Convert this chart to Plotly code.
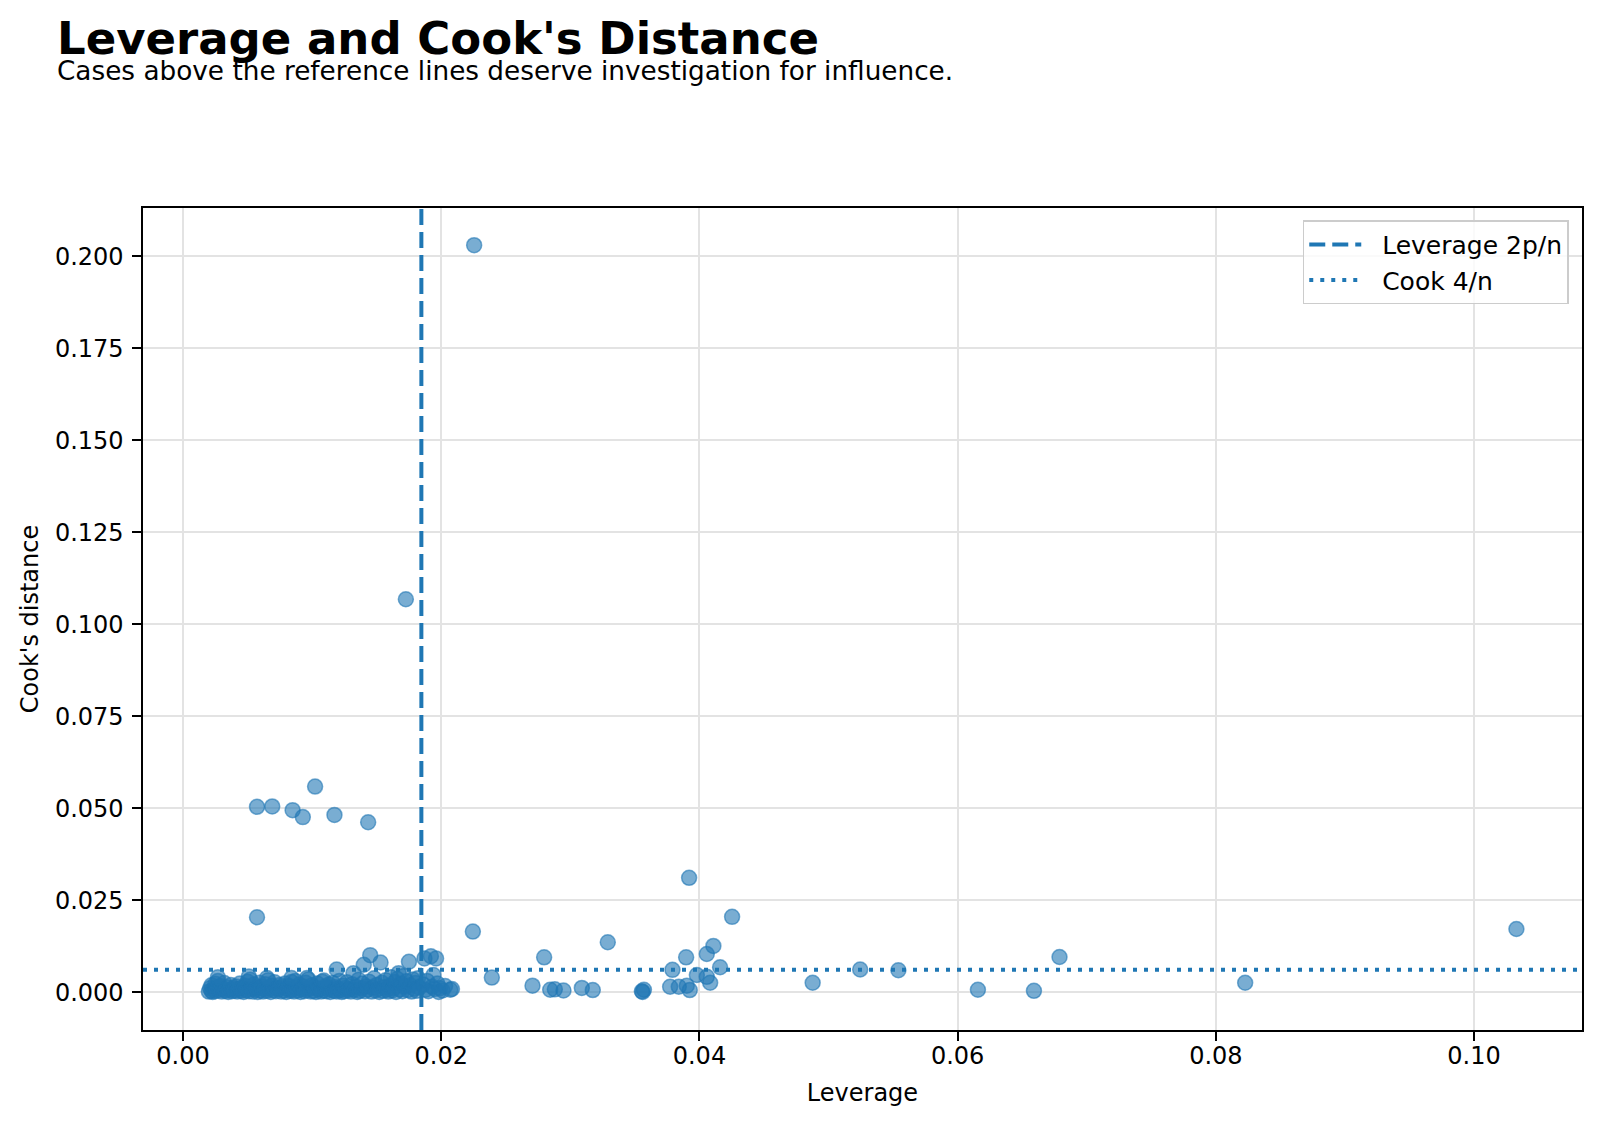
import plotly.graph_objects as go

# model size used for the reference cut-offs
n_obs = 650
n_params = 6

# leverage / Cook's distance: the dense low cluster first
cluster_lev = [
    0.0020, 0.0021, 0.0022, 0.0022, 0.0023, 0.0024, 0.0025, 0.0025, 0.0026, 0.0027,
    0.0028, 0.0029, 0.0030, 0.0031, 0.0032, 0.0033, 0.0034, 0.0035, 0.0036, 0.0037,
    0.0038, 0.0039, 0.0040, 0.0041, 0.0042, 0.0043, 0.0044, 0.0045, 0.0046, 0.0047,
    0.0048, 0.0049, 0.0050, 0.0051, 0.0052, 0.0053, 0.0054, 0.0055, 0.0056, 0.0057,
    0.0058, 0.0059, 0.0060, 0.0061, 0.0062, 0.0063, 0.0064, 0.0065, 0.0066, 0.0067,
    0.0068, 0.0069, 0.0070, 0.0071, 0.0072, 0.0073, 0.0074, 0.0075, 0.0076, 0.0077,
    0.0078, 0.0079, 0.0080, 0.0081, 0.0082, 0.0083, 0.0084, 0.0085, 0.0086, 0.0087,
    0.0088, 0.0089, 0.0090, 0.0091, 0.0092, 0.0093, 0.0094, 0.0095, 0.0096, 0.0097,
    0.0098, 0.0099, 0.0100, 0.0101, 0.0102, 0.0103, 0.0104, 0.0105, 0.0106, 0.0107,
    0.0108, 0.0109, 0.0110, 0.0111, 0.0112, 0.0113, 0.0114, 0.0115, 0.0116, 0.0117,
    0.0118, 0.0119, 0.0120, 0.0121, 0.0122, 0.0123, 0.0124, 0.0125, 0.0126, 0.0127,
    0.0128, 0.0129, 0.0130, 0.0131, 0.0132, 0.0133, 0.0134, 0.0135, 0.0136, 0.0137,
    0.0138, 0.0139, 0.0140, 0.0141, 0.0142, 0.0143, 0.0144, 0.0145, 0.0146, 0.0147,
    0.0148, 0.0149, 0.0150, 0.0151, 0.0152, 0.0153, 0.0154, 0.0155, 0.0156, 0.0157,
    0.0158, 0.0159, 0.0160, 0.0161, 0.0162, 0.0163, 0.0164, 0.0165, 0.0166, 0.0167,
    0.0168, 0.0169, 0.0170, 0.0171, 0.0172, 0.0173, 0.0174, 0.0175, 0.0176, 0.0177,
    0.0178, 0.0179, 0.0180, 0.0181, 0.0182, 0.0183, 0.0186, 0.0187, 0.0188, 0.0189,
    0.0190, 0.0192, 0.0193, 0.0194, 0.0195, 0.0196, 0.0197, 0.0198, 0.0199, 0.0201,
    0.0203, 0.0207, 0.0119, 0.0027, 0.0051, 0.0065, 0.0084, 0.0096, 0.0109,
]
cluster_cook = [
    0.0002, 0.0011, 0.0004, 0.0019, 0.0001, 0.0008, 0.0023, 0.0003, 0.0013, 0.0031,
    0.0006, 0.0017, 0.0002, 0.0009, 0.0025, 0.0004, 0.0014, 0.0001, 0.0007, 0.0020,
    0.0003, 0.0011, 0.0005, 0.0016, 0.0002, 0.0009, 0.0024, 0.0004, 0.0012, 0.0001,
    0.0018, 0.0006, 0.0029, 0.0003, 0.0034, 0.0010, 0.0002, 0.0021, 0.0007, 0.0013,
    0.0001, 0.0026, 0.0005, 0.0015, 0.0002, 0.0009, 0.0022, 0.0004, 0.0033, 0.0011,
    0.0001, 0.0018, 0.0006, 0.0027, 0.0003, 0.0012, 0.0008, 0.0020, 0.0002, 0.0014,
    0.0005, 0.0024, 0.0001, 0.0010, 0.0017, 0.0004, 0.0028, 0.0007, 0.0002, 0.0031,
    0.0013, 0.0005, 0.0021, 0.0001, 0.0009, 0.0016, 0.0003, 0.0026, 0.0006, 0.0035,
    0.0011, 0.0002, 0.0019, 0.0004, 0.0013, 0.0001, 0.0024, 0.0007, 0.0010, 0.0002,
    0.0029, 0.0005, 0.0016, 0.0003, 0.0012, 0.0021, 0.0001, 0.0008, 0.0025, 0.0004,
    0.0014, 0.0002, 0.0010, 0.0031, 0.0006, 0.0001, 0.0018, 0.0003, 0.0012, 0.0027,
    0.0005, 0.0009, 0.0002, 0.0022, 0.0052, 0.0007, 0.0015, 0.0001, 0.0034, 0.0004,
    0.0011, 0.0024, 0.0075, 0.0003, 0.0016, 0.0008, 0.0029, 0.0101, 0.0002, 0.0013,
    0.0038, 0.0005, 0.0020, 0.0009, 0.0001, 0.0081, 0.0026, 0.0004, 0.0014, 0.0033,
    0.0007, 0.0002, 0.0018, 0.0041, 0.0005, 0.0011, 0.0028, 0.0001, 0.0036, 0.0052,
    0.0008, 0.0023, 0.0003, 0.0044, 0.0015, 0.0030, 0.0006, 0.0083, 0.0019, 0.0002,
    0.0035, 0.0010, 0.0025, 0.0004, 0.0038, 0.0013, 0.0021, 0.0092, 0.0007, 0.0031,
    0.0003, 0.0098, 0.0015, 0.0047, 0.0009, 0.0092, 0.0024, 0.0001, 0.0011, 0.0005,
    0.0017, 0.0007, 0.0062, 0.0041, 0.0043, 0.0039, 0.0039, 0.0039, 0.0032,
]

# the scattered cases further out
outer_lev = [
    0.02255, 0.01726, 0.01023, 0.00573, 0.00691, 0.00849, 0.00928, 0.01173, 0.01434, 0.00573,
    0.02245, 0.02392, 0.02083, 0.02707, 0.02797, 0.02844, 0.02880, 0.02947, 0.03089, 0.03174,
    0.03290, 0.03554, 0.03570, 0.03560, 0.03773, 0.03791, 0.03840, 0.03897, 0.03902, 0.03925,
    0.03920, 0.03980, 0.04057, 0.04057, 0.04083, 0.04108, 0.04160, 0.04253, 0.04877, 0.05245,
    0.05541, 0.06157, 0.06591, 0.06789, 0.08227, 0.10328,
]
outer_cook = [
    0.2030, 0.1068, 0.0559, 0.0504, 0.0505, 0.0495, 0.0476, 0.0482, 0.0462, 0.0204,
    0.0165, 0.0040, 0.0009, 0.0018, 0.0095, 0.0007, 0.0008, 0.0005, 0.0012, 0.0006,
    0.0136, 0.0003, 0.0007, 0.0001, 0.0015, 0.0061, 0.0015, 0.0095, 0.0018, 0.0006,
    0.0311, 0.0047, 0.0104, 0.0042, 0.0026, 0.0126, 0.0068, 0.0205, 0.0026, 0.0062,
    0.0060, 0.0007, 0.0004, 0.0096, 0.0026, 0.0172,
]

lev_cut = 2 * n_params / n_obs
cook_cut = 4 / n_obs

x_range = [-0.0031, 0.10836]
y_range = [-0.01024, 0.2131]

blue = "#1f77b4"
font = "DejaVu Sans"
gap = "\u00a0\u00a0"  # spacing between legend sample and label

fig = go.Figure()

fig.add_trace(go.Scatter(
    x=cluster_lev + outer_lev, y=cluster_cook + outer_cook,
    mode="markers", showlegend=False,
    marker=dict(size=15, color="rgba(31,119,180,0.6)",
                line=dict(color="rgba(31,119,180,0.6)", width=1.5)),
))

fig.add_trace(go.Scatter(
    x=[lev_cut, lev_cut], y=y_range, mode="lines", name=gap + "Leverage 2p/n",
    line=dict(color=blue, width=4, dash="16px,7px"),
))
fig.add_trace(go.Scatter(
    x=x_range, y=[cook_cut, cook_cut], mode="lines", name=gap + "Cook 4/n",
    line=dict(color=blue, width=4, dash="4px,7px"),
))

# title + subtitle placed like the matplotlib suptitle
fig.add_annotation(text="<b>Leverage and Cook's Distance</b>", xref="paper", yref="paper",
                   x=-0.0612, y=1.2060, xanchor="left", yanchor="middle", showarrow=False,
                   font=dict(size=45, color="black", family=font))
fig.add_annotation(text="Cases above the reference lines deserve investigation for influence.",
                   xref="paper", yref="paper", x=-0.0612, y=1.1669, xanchor="left",
                   yanchor="middle", showarrow=False,
                   font=dict(size=26.3, color="black", family=font))

axis_style = dict(
    showline=True, mirror=True, linecolor="black", linewidth=1.8,
    ticks="outside", ticklen=8.7, tickwidth=1.8, tickcolor="black",
    showgrid=True, gridcolor="#e3e3e3", gridwidth=1.5, zeroline=False,
    tickfont=dict(size=24, color="black", family=font),
)

fig.update_xaxes(range=x_range, tickvals=[0, 0.02, 0.04, 0.06, 0.08, 0.10], tickformat=".2f",
                 ticklabelstandoff=-5,
                 title=dict(text="Leverage", font=dict(size=24, color="black", family=font),
                            standoff=15),
                 **axis_style)
fig.update_yaxes(range=y_range,
                 tickvals=[0, 0.025, 0.05, 0.075, 0.1, 0.125, 0.15, 0.175, 0.2], tickformat=".3f",
                 ticklabelstandoff=4,
                 title=dict(text="Cook's distance", font=dict(size=24, color="black", family=font),
                            standoff=9),
                 **axis_style)

# the page body adds an 8px margin, so the figure is 8px smaller to keep the frame in place
fig.update_layout(
    width=1592, height=1118,
    margin=dict(l=135, r=18, t=200, b=96),
    paper_bgcolor="white", plot_bgcolor="white",
    font=dict(family=font, color="black"),
    legend=dict(x=0.9908, y=0.985, xanchor="right", yanchor="top",
                bgcolor="rgba(255,255,255,0.8)", bordercolor="#cccccc", borderwidth=1.5,
                font=dict(size=25, color="black", family=font), itemwidth=52),
)

fig.write_html("out.html")
